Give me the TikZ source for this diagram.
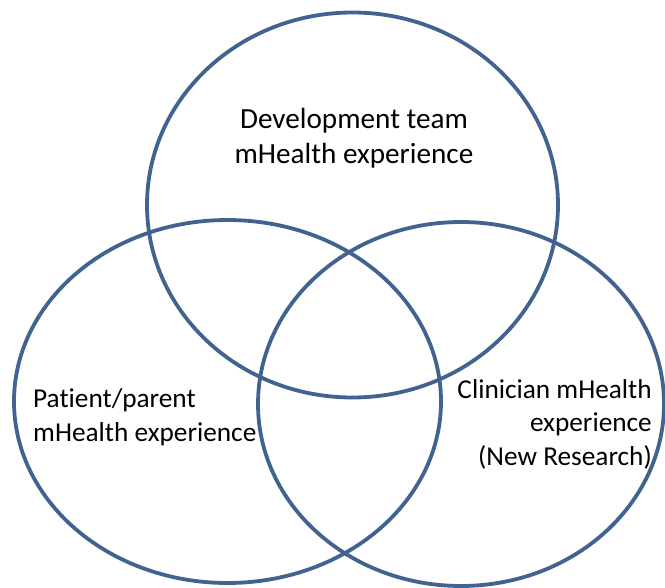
\documentclass[tikz,border=0pt]{standalone}
\usepackage{fontspec}
\setmainfont{Carlito}[Ligatures=NoCommon]
\usetikzlibrary{positioning}
\definecolor{vennblue}{RGB}{64,99,144}

\begin{document}
\begin{tikzpicture}[
    x=1pt, y=-1pt,
    circ/.style  = {draw=vennblue, line width=3.8pt},
    label/.style = {font=\fontsize{27.3}{33.5}\selectfont, inner sep=0pt},
  ]
	\useasboundingbox (0,0) rectangle (665,588);
	\coordinate (MT) at (352.5,205); % Mittelpunkt oben
	\coordinate (ML) at (227.5,401.5); % Mittelpunkt links
	\coordinate (MR) at (461,404); % Mittelpunkt rechts

	% Kreise
	\draw[circ] (MT) ellipse [x radius=205.5, y radius=192.5];
	\draw[circ] (ML) ellipse [x radius=213.5, y radius=181.5];
	\draw[circ] (MR) ellipse [x radius=203, y radius=182];

	% Beschriftungen
	\node[label, font=\fontsize{29.2}{35}\selectfont, align=center] (dev) at (354,138) {Development team\\mHealth experience};
	\node[label, align=left, anchor=west] (pat) at (33,417) {Patient/parent\\mHealth experience};
	\node[label, align=right, anchor=east] (cli) at (652,424) {Clinician mHealth\\experience\\(New Research)};

\end{tikzpicture}
\end{document}
